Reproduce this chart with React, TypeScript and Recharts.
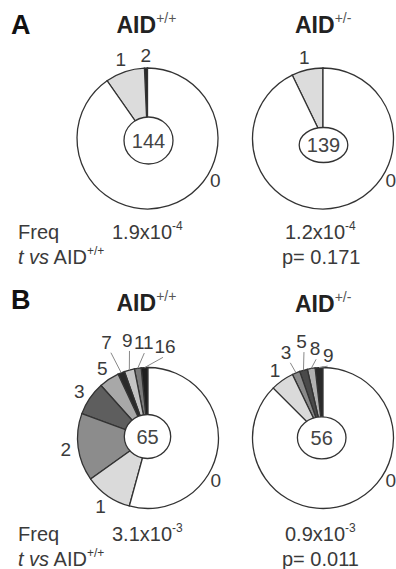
import React from 'react';
import { PieChart, Pie, Cell } from 'recharts';

// ---------- data ----------
const aWtCategories = ['2', '1', '0'];
const aWtValues = [1, 13, 130];
const aHetCategories = ['1', '0'];
const aHetValues = [10, 129];
const bWtCategories = ['16', '11', '9', '7', '5', '3', '2', '1', '0'];
const bWtValues = [1, 1, 1.5, 1, 3, 5, 10, 7, 35];
const bHetCategories = ['9', '8', '5', '3', '1', '0'];
const bHetValues = [1, 1, 1, 1, 3, 49];

const panelLetters = ['A', 'B'];
const genotypeSup = ['+/+', '+/-'];
const totalCounts = ['144', '139', '65', '56'];
const freqMantissa = ['1.9x10', '1.2x10', '3.1x10', '0.9x10'];
const freqExponent = ['-4', '-4', '-3', '-3'];
const pValues = ['p= 0.171', 'p= 0.011'];

// ---------- styles / layout ----------
const FONT = '"Liberation Sans", Arial, Helvetica, sans-serif';
const TXT = '#3a3a3a';
const STROKE = '#333';

const aWtColors = ['#2a2a2a', '#dcdcdc', '#ffffff'];
const aHetColors = ['#dcdcdc', '#ffffff'];
const bWtColors = ['#1e1e1e', '#7a7a7a', '#c4c4c4', '#2a2a2a', '#a8a8a8', '#5e5e5e', '#8c8c8c', '#dadada', '#ffffff'];
const bHetColors = ['#2a2a2a', '#b0b0b0', '#4a4a4a', '#8a8a8a', '#dadada', '#ffffff'];

const R = 70.5;
const LABEL_R = 83;
const ZERO_LABEL: [number, number] = [122, 80];
const bWtFan: Record<string, [number, number]> = { '16': [10.5, 93], '11': [-2.5, 96], '9': [-12, 100], '7': [-23.5, 104] };
const bHetFan: Record<string, [number, number]> = { '9': [3.7, 83], '8': [-5, 90], '5': [-12.5, 99], '3': [-23.5, 93] };

const polar = (cx: number, cy: number, r: number, theta: number) => {
  const t = (theta * Math.PI) / 180;
  return { x: cx + r * Math.sin(t), y: cy - r * Math.cos(t) };
};

const makeLabel = (cats: string[], fan: Record<string, [number, number]>) => (props: any) => {
  const { cx, cy, midAngle, index } = props;
  const cat = cats[index];
  const midTheta = 90 - midAngle;
  let theta = midTheta;
  let r = LABEL_R;
  let leader = false;
  if (cat === '0') {
    theta = ZERO_LABEL[0];
    r = ZERO_LABEL[1];
  } else if (fan[cat]) {
    theta = fan[cat][0];
    r = fan[cat][1];
    leader = true;
  }
  const p = polar(cx, cy, r, theta);
  const l0 = polar(cx, cy, R, midTheta);
  const l1 = polar(cx, cy, r - 11, theta);
  return (
    <g key={`lbl-${index}`}>
      {leader && <line x1={l0.x} y1={l0.y} x2={l1.x} y2={l1.y} stroke="#888" strokeWidth={1} />}
      <text x={p.x} y={p.y} textAnchor="middle" dominantBaseline="central" fontFamily={FONT} fontSize={19} fill={TXT}>
        {cat}
      </text>
    </g>
  );
};

const build = (cats: string[], vals: number[]) => cats.map((c, i) => ({ name: c, value: vals[i] }));

const pies = [
  { cats: aWtCategories, vals: aWtValues, colors: aWtColors, cx: 147.5, cy: 138.5, fan: {} },
  { cats: aHetCategories, vals: aHetValues, colors: aHetColors, cx: 323, cy: 138.5, fan: {} },
  { cats: bWtCategories, vals: bWtValues, colors: bWtColors, cx: 148, cy: 438, fan: bWtFan },
  { cats: bHetCategories, vals: bHetValues, colors: bHetColors, cx: 323, cy: 438, fan: bHetFan },
];

const ellipses = [
  { cx: 148.5, cy: 140.5, rx: 24.5, ry: 23.5 },
  { cx: 323.5, cy: 145, rx: 24.3, ry: 17.5 },
  { cx: 147.5, cy: 436.5, rx: 23.2, ry: 22 },
  { cx: 321.7, cy: 437.8, rx: 24.3, ry: 21 },
];

const Heading = ({ x, y, sup }: { x: number; y: number; sup: string }) => (
  <text x={x} y={y} fontFamily={FONT} fill="#222">
    <tspan fontSize={23} fontWeight="bold">AID</tspan>
    <tspan fontSize={14} dy={-10} fill="#555">{sup}</tspan>
  </text>
);

const FreqRows = ({ y, i }: { y: number; i: number }) => (
  <g fontFamily={FONT} fill={TXT}>
    <text x={18} y={y} fontSize={20}>Freq</text>
    <text x={112} y={y} fontSize={20}>
      {freqMantissa[i * 2]}
      <tspan fontSize={12} dy={-9}>{freqExponent[i * 2]}</tspan>
    </text>
    <text x={285} y={y} fontSize={20}>
      {freqMantissa[i * 2 + 1]}
      <tspan fontSize={12} dy={-9}>{freqExponent[i * 2 + 1]}</tspan>
    </text>
    <text x={18} y={y + 25} fontSize={20}>
      <tspan fontStyle="italic">t vs</tspan>
      <tspan> AID</tspan>
      <tspan fontSize={12} dy={-9}>{genotypeSup[0]}</tspan>
    </text>
    <text x={282} y={y + 25} fontSize={20}>{pValues[i]}</text>
  </g>
);

export default function App() {
  return (
    <div style={{ position: 'absolute', left: 0, top: 0, width: 396, height: 569, background: '#fff' }}>
      <PieChart width={396} height={569} margin={{ top: 0, right: 0, bottom: 0, left: 0 }}>
        {pies.map((p, k) => (
          <Pie
            key={k}
            data={build(p.cats, p.vals)}
            dataKey="value"
            nameKey="name"
            cx={p.cx}
            cy={p.cy}
            innerRadius={0}
            outerRadius={R}
            startAngle={90}
            endAngle={450}
            stroke={STROKE}
            strokeWidth={1.3}
            label={makeLabel(p.cats, p.fan as Record<string, [number, number]>)}
            labelLine={false}
            isAnimationActive={false}
          >
            {p.cats.map((c, i) => (
              <Cell key={c} fill={p.colors[i]} stroke={STROKE} strokeWidth={1.3} />
            ))}
          </Pie>
        ))}
      </PieChart>
      <svg width={396} height={569} style={{ position: 'absolute', left: 0, top: 0, pointerEvents: 'none' }}>
        {ellipses.map((e, i) => (
          <g key={i}>
            <ellipse cx={e.cx} cy={e.cy} rx={e.rx} ry={e.ry} fill="#fff" stroke={STROKE} strokeWidth={1.3} />
            <text x={e.cx} y={e.cy} textAnchor="middle" dominantBaseline="central" fontFamily={FONT} fontSize={20} fill="#444">
              {totalCounts[i]}
            </text>
          </g>
        ))}
        <text x={11} y={34} fontFamily={FONT} fontSize={27} fontWeight="bold" fill="#111">{panelLetters[0]}</text>
        <text x={11} y={309} fontFamily={FONT} fontSize={27} fontWeight="bold" fill="#111">{panelLetters[1]}</text>
        <Heading x={116.5} y={33} sup={genotypeSup[0]} />
        <Heading x={295} y={33} sup={genotypeSup[1]} />
        <Heading x={116.5} y={310.5} sup={genotypeSup[0]} />
        <Heading x={295} y={311.5} sup={genotypeSup[1]} />
        <FreqRows y={239} i={0} />
        <FreqRows y={541} i={1} />
      </svg>
    </div>
  );
}
